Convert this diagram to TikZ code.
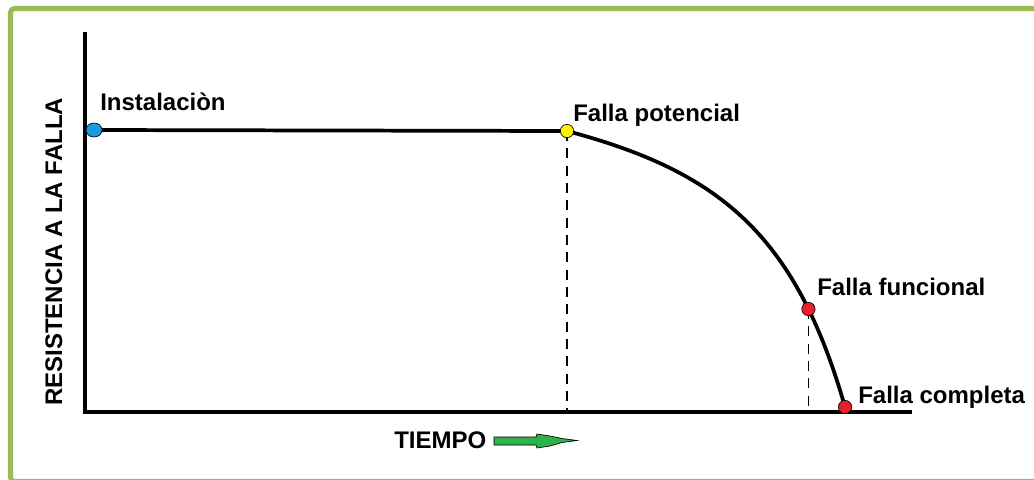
\documentclass[tikz,border=0pt]{standalone}
\usepackage{fontspec}
\setmainfont{Liberation Sans}
\usepackage{tikz}
\usetikzlibrary{calc,shapes.geometric}

\definecolor{framegreen}{HTML}{9BBB59}
\definecolor{dotblue}{HTML}{1E9BE0}
\definecolor{dotyellow}{HTML}{FFF200}
\definecolor{dotred}{HTML}{E8202A}
\definecolor{arrowgreen}{HTML}{2DB34A}

\begin{document}
\begin{tikzpicture}[
    x=0.75pt, y=-0.75pt,
    font=\bfseries\fontsize{18}{20}\selectfont,
    axis/.style={line width=3pt, line cap=rect},
    curve/.style={line width=2.8pt},
    guide/.style={line width=1.1pt, dash pattern=on 7.5pt off 5.5pt},
    dot/.style={circle, draw=black, line width=0.5pt, inner sep=0pt, minimum size=10pt},
    lbl/.style={anchor=base west, inner sep=0pt}
  ]
    \useasboundingbox (0,0) rectangle (1034,479);
    \draw[framegreen, line width=3.8pt, rounded corners=3pt] (10.5,8.5) rectangle (1050,481.5);

    % axes
    \coordinate (O) at (85,412);
    \coordinate (Ytop) at (85,34);
    \coordinate (Xend) at (910,412);
    \draw[axis] (Ytop) -- (O) -- (Xend);

    % resistance curve
    \coordinate (inst) at (94,130);
    \coordinate (pot) at (567,131);
    \coordinate (comp) at (845,407);
    \draw[curve] (inst) -- (pot);
    \draw[curve] (pot) .. controls (717,171) and (795,232) .. (comp)
      coordinate[pos=0.785] (func);

    % guides to the time axis
    \draw[guide] (pot) -- (pot |- O);
    \draw[guide] (func) -- (func |- O);

    \node[dot, ellipse, fill=dotblue, minimum width=12pt, minimum height=10.5pt] (instdot) at (inst) {};
    \node[dot, fill=dotyellow] (potdot) at (pot) {};
    \node[dot, fill=dotred] (funcdot) at (func) {};
    \node[dot, fill=dotred] (compdot) at (comp) {};

    \node[lbl] (instlbl) at (100,110) {Instalaciòn};
    \node[lbl] (potlbl) at (573,121) {Falla potencial};
    \node[lbl] (funclbl) at (817,295) {Falla funcional};
    \node[lbl] (complbl) at (858,403) {Falla completa};

    \node[lbl, rotate=90] (ylbl) at (62,406) {RESISTENCIA A LA FALLA};
    \node[lbl] (xlbl) at (394,448) {TIEMPO};

    % time arrow
    \filldraw[fill=arrowgreen, draw=black, line width=0.5pt]
      (494,437) -- (536,437) -- (537,434) -- (550,436) -- (562,438.5) -- (577,440.5)
      -- (562,442.5) -- (550,446) -- (537,448) -- (536,445) -- (494,445) -- cycle;
  \end{tikzpicture}
\end{document}
